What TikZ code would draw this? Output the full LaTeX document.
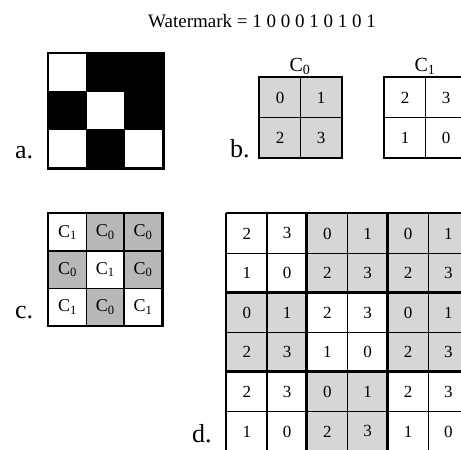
\documentclass[tikz,border=0pt]{standalone}
\usepackage{fontspec}
\setmainfont{Liberation Serif}
\definecolor{cw}{gray}{1}
\definecolor{cg}{gray}{0.84}
\definecolor{ck}{gray}{0.72}
\begin{document}
\begin{tikzpicture}[x=1pt,y=-1pt,
  lab/.style={font=\fontsize{26}{26}\selectfont, anchor=base west, inner sep=0pt},
  acell/.style={draw=black, line width=1.4pt, minimum width=38pt, minimum height=38pt, inner sep=0pt, anchor=north west},
  bcell/.style={draw=black, line width=1.4pt, minimum width=41pt, minimum height=40pt, inner sep=0pt, anchor=north west, font=\fontsize{17}{17}\selectfont},
  ccell/.style={draw=black, line width=1.4pt, minimum width=37.7pt, minimum height=37.3pt, inner sep=0pt, anchor=north west, font=\fontsize{18}{18}\selectfont},
  dcell/.style={draw=black, line width=1.3pt, minimum width=40.3pt, minimum height=39.6pt, inner sep=0pt, anchor=north west, font=\fontsize{17}{17}\selectfont},
  thick border/.style={draw=black, line width=2.6pt},
  heading/.style={font=\fontsize{19}{19}\selectfont, anchor=base, inner sep=0pt}]
\useasboundingbox (0,0) rectangle (461,450);
\clip (0,0) rectangle (461,450);
\fill[white] (0,0) rectangle (461,450);

% title
\node[heading] (title) at (262,27) {Watermark = 1 0 0 0 1 0 1 0 1};

% a. watermark grid
\foreach \row [count=\r] in {{cw,black,black},{black,cw,black},{cw,black,cw}}{
  \foreach \f [count=\c] in \row{
    \node[acell, fill=\f] (a-\r-\c) at ({48+(\c-1)*38},{53+(\r-1)*38}) {};
  }
}
\draw[thick border] (a-1-1.north west) rectangle (a-3-3.south east);
\node[lab] (la) at (15,158) {a.};

% b. codebooks
\foreach \row [count=\r] in {{0,1},{2,3}}{
  \foreach \v [count=\c] in \row{
    \node[bcell, fill=cg] (b0-\r-\c) at ({259+(\c-1)*41},{77+(\r-1)*40}) {\v};
  }
}
\draw[thick border, line width=2pt] (b0-1-1.north west) rectangle (b0-2-2.south east);
\foreach \row [count=\r] in {{2,3},{1,0}}{
  \foreach \v [count=\c] in \row{
    \node[bcell, fill=cw] (b1-\r-\c) at ({384+(\c-1)*41},{77+(\r-1)*40}) {\v};
  }
}
\draw[thick border, line width=2pt] (b1-1-1.north west) rectangle (b1-2-2.south east);
\node[heading, font=\fontsize{20}{20}\selectfont] (hc0) at (300,71) {C\textsubscript{0}};
\node[heading, font=\fontsize{20}{20}\selectfont] (hc1) at (425,71) {C\textsubscript{1}};
\node[lab] (lb) at (230,157) {b.};

% c. codebook layout
\foreach \row [count=\r] in {{1/cw,0/ck,0/ck},{0/ck,1/cw,0/ck},{1/cw,0/ck,1/cw}}{
  \foreach \v/\f [count=\c] in \row{
    \node[ccell, fill=\f] (c-\r-\c) at ({48+(\c-1)*37.7},{213+(\r-1)*37.3}) {C\textsubscript{\v}};
  }
}
\draw[thick border, line width=2.2pt] (c-1-1.north west) rectangle (c-3-3.south east);
\node[lab] (lc) at (15,318) {c.};

% d. resulting share
\foreach \row [count=\r] in {
  {2/cw,3/cw,0/cg,1/cg,0/cg,1/cg},
  {1/cw,0/cw,2/cg,3/cg,2/cg,3/cg},
  {0/cg,1/cg,2/cw,3/cw,0/cg,1/cg},
  {2/cg,3/cg,1/cw,0/cw,2/cg,3/cg},
  {2/cw,3/cw,0/cg,1/cg,2/cw,3/cw},
  {1/cw,0/cw,2/cg,3/cg,1/cw,0/cw}}{
  \foreach \v/\f [count=\c] in \row{
    \node[dcell, fill=\f] (d-\r-\c) at ({226+(\c-1)*40.3},{213+(\r-1)*39.6}) {\v};
  }
}
\foreach \k in {1,3,5}{
  \draw[thick border] (d-1-\k.north west) -- (d-6-\k.south west);
  \draw[thick border] (d-\k-1.north west) -- (d-\k-6.north east);
}
\draw[thick border] (d-1-6.north east) -- (d-6-6.south east);
\draw[thick border] (d-6-1.south west) -- (d-6-6.south east);
\node[lab] (ld) at (192,442) {d.};
\end{tikzpicture}
\end{document}
